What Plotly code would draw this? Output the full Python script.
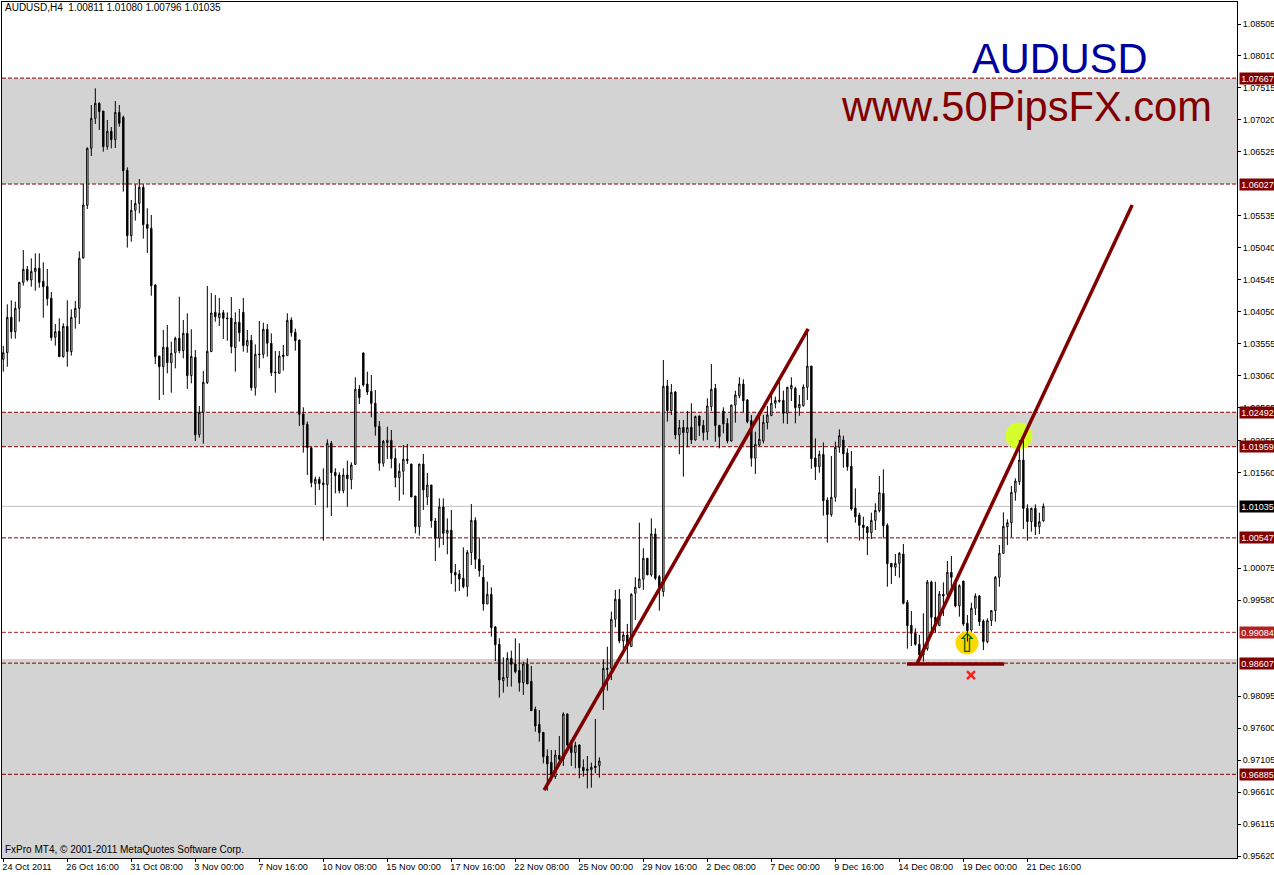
import plotly.graph_objects as go

opens = [
 1.03312,1.03415,1.03962,1.0374,1.04102,1.04504,1.04706,1.04541,1.0467,1.04721,
 1.0452,1.04442,1.04257,1.03653,1.03746,1.03353,1.03823,1.03431,1.03962,1.04102,
 1.04881,1.05697,1.0658,1.07044,1.07277,1.07158,1.06606,1.06843,1.06714,1.07137,
 1.0706,1.06239,1.05227,1.0562,1.05728,1.05976,1.05403,1.05341,1.04463,1.03364,
 1.03198,1.03498,1.0326,1.03415,1.03637,1.03446,1.03715,1.03059,1.03343,1.02145,
 1.02491,1.02951,1.03431,1.0404,1.03957,1.04035,1.03952,1.03952,1.03493,1.03885,
 1.0404,1.03524,1.03606,1.02873,1.03395,1.0339,1.03777,1.0356,1.03116,1.03095,
 1.03379,1.03369,1.03921,1.0373,1.03612,1.02466,1.02306,1.01944,1.01387,1.01454,
 1.01397,1.01371,1.02011,1.01562,1.01521,1.01278,1.01521,1.01449,1.01686,1.02848,
 1.0341,1.0293,1.02817,1.02631,1.02275,1.01702,1.02022,1.02058,1.01779,1.0148,
 1.01578,1.01764,1.01691,1.01195,1.0072,1.01691,1.0118,1.01366,1.00808,1.0054,
 1.01025,1.00617,1.00664,1.00013,0.99987,0.9992,0.99791,1.00318,1.00818,1.00214,
 0.99936,0.99523,0.99672,0.99167,0.98898,0.98335,0.98382,0.98681,0.98593,0.98495,
 0.98305,0.98593,0.98325,0.97892,0.97659,0.97535,0.97169,0.97071,0.96849,0.97179,
 0.97117,0.97819,0.97365,0.97221,0.97339,0.96993,0.96968,0.96957,0.97014,0.97019,
 0.98191,0.98526,0.98527,0.99286,0.99596,0.98951,0.99043,0.98863,0.99689,0.99777,
 0.99906,1.00231,0.99973,1.00608,0.99947,0.99715,1.029,1.02517,1.02807,1.02141,
 1.02259,1.02177,1.02259,1.02063,1.02435,1.0229,1.02187,1.0258,1.02863,1.0229,
 1.02512,1.02321,1.02048,1.02605,1.0275,1.0293,1.02683,1.02363,1.0178,1.01986,
 1.02048,1.02332,1.0244,1.02631,1.02677,1.02677,1.02475,1.02857,1.02862,1.02563,
 1.02594,1.02878,1.03208,1.01784,1.01649,1.0184,1.01133,1.00906,1.01175,1.01949,
 1.02062,1.0186,1.01655,1.01009,1.00901,1.00746,1.00715,1.00627,1.00818,1.00968,
 1.01236,1.00741,1.00152,1.00091,1.00152,1.00297,0.99548,0.99192,0.99068,0.98898,
 0.98733,0.98831,0.99863,0.99316,0.99187,0.99673,0.99673,1.00013,0.99884,0.99492,
 0.99879,0.99223,0.9912,0.99456,0.99647,0.99259,0.98939,0.99265,0.9942,0.99936,
 1.00307,1.0072,1.00782,1.01252,1.01417,1.01753,1.01004,1.00798,1.01004,1.0072,
 1.00811]
highs = [
 1.03518,1.04164,1.04226,1.04205,1.04504,1.05005,1.04757,1.04876,1.04954,1.04954,
 1.04814,1.04711,1.04355,1.03859,1.03947,1.0387,1.04226,1.04086,1.04215,1.04984,
 1.06027,1.06595,1.07251,1.07509,1.07292,1.07158,1.07019,1.0691,1.07313,1.07251,
 1.07086,1.06286,1.0578,1.06022,1.06105,1.06022,1.05651,1.05547,1.04473,1.03364,
 1.03766,1.03844,1.03586,1.03663,1.04282,1.03921,1.04024,1.03777,1.03457,1.02589,
 1.03131,1.04448,1.04339,1.04308,1.04262,1.04076,1.0404,1.04277,1.0404,1.04092,
 1.04262,1.03766,1.03689,1.03544,1.03906,1.0388,1.03859,1.03715,1.03441,1.03441,
 1.03534,1.04025,1.03963,1.03787,1.03612,1.02569,1.02347,1.01949,1.01495,1.01495,
 1.01624,1.02073,1.02047,1.01624,1.01562,1.01624,1.01743,1.01717,1.03033,1.02915,
 1.03421,1.03121,1.0307,1.02837,1.02357,1.02063,1.02269,1.02218,1.01934,1.01702,
 1.01986,1.02001,1.01691,1.01195,1.01691,1.01846,1.01552,1.01366,1.00855,1.01159,
 1.01159,1.00849,1.00978,1.00142,1.00049,1.004,1.00359,1.01071,1.00865,1.0054,
 1.00127,0.99869,0.99781,0.99182,0.98991,0.98697,0.98774,0.988,0.98991,0.98914,
 0.9863,0.98681,0.98563,0.97933,0.97881,0.9754,0.97272,0.97262,0.97262,0.97479,
 0.97845,0.97829,0.97417,0.97391,0.9735,0.97117,0.97169,0.97065,0.97742,0.97148,
 0.98666,0.98862,0.99405,0.9974,0.99756,0.99095,0.99214,0.99689,0.99936,1.00783,
 1.00386,1.00231,1.0085,1.00695,0.99973,1.03302,1.02992,1.0293,1.02822,1.02373,
 1.02373,1.02512,1.02631,1.0244,1.0244,1.02373,1.02708,1.0324,1.0293,1.02296,
 1.02569,1.02399,1.02605,1.02827,1.03034,1.03003,1.02698,1.0245,1.02192,1.0245,
 1.0245,1.0259,1.02796,1.02734,1.02967,1.02827,1.02888,1.03033,1.02888,1.02759,
 1.02924,1.0372,1.03208,1.02088,1.01897,1.02026,1.01175,1.01815,1.02037,1.02228,
 1.0213,1.01933,1.01892,1.01314,1.00937,1.00875,1.0073,1.00937,1.01082,1.01505,
 1.01608,1.00772,1.00152,1.00297,1.00328,1.00452,0.99585,0.99414,0.99146,0.99043,
 0.99378,0.99894,0.99884,0.99868,0.99724,0.99858,1.00189,1.00266,0.99894,0.99827,
 0.99879,0.99352,0.99543,0.99688,0.99662,0.99285,0.99301,0.9943,0.99956,1.00436,
 1.00942,1.00834,1.0135,1.01469,1.02062,1.02114,1.01066,1.01014,1.01066,1.00937,
 1.0108]
lows = [
 1.03121,1.03198,1.03632,1.03632,1.03895,1.04453,1.04515,1.04437,1.04375,1.04422,
 1.03957,1.04143,1.03601,1.03524,1.03353,1.03338,1.03198,1.03369,1.03787,1.03859,
 1.04876,1.0564,1.06461,1.06957,1.06864,1.06528,1.06559,1.0658,1.06585,1.06915,
 1.05909,1.05042,1.05134,1.0546,1.05573,1.05181,1.04959,1.04297,1.0324,1.02682,
 1.0276,1.03095,1.02796,1.03173,1.03405,1.03327,1.02853,1.0294,1.02047,1.02099,
 1.02006,1.0293,1.03431,1.03895,1.03828,1.03627,1.03601,1.03405,1.03121,1.03586,
 1.03431,1.03415,1.02827,1.0275,1.03173,1.03328,1.03353,1.03054,1.02796,1.03095,
 1.03137,1.03369,1.03663,1.03446,1.0228,1.01867,1.01521,1.0133,1.01056,1.01289,
 1.00504,1.01015,1.00886,1.01237,1.01237,1.01237,1.01031,1.01299,1.01676,1.0262,
 1.02889,1.0276,1.02414,1.0213,1.01588,1.0165,1.01769,1.01624,1.0133,1.01123,
 1.01216,1.01691,1.0118,1.00617,1.00581,1.00979,1.01056,1.00705,1.00189,1.00395,
 1.00436,1.00292,0.99832,0.99714,0.99724,0.99765,0.99636,1.00127,1.00065,0.99946,
 0.9942,0.99523,0.99017,0.9864,0.98072,0.9815,0.98243,0.98243,0.98449,0.98165,
 0.98114,0.98284,0.97871,0.97546,0.97391,0.97055,0.96632,0.96782,0.96813,0.97019,
 0.97014,0.97313,0.97014,0.96978,0.96823,0.96849,0.96668,0.96679,0.96901,0.96833,
 0.97881,0.9818,0.98346,0.99162,0.98914,0.98796,0.98605,0.98863,0.99276,0.99766,
 0.9974,0.99973,0.99947,0.99895,0.9942,0.99637,1.02347,1.0245,1.02074,1.01841,
 1.01495,1.0195,1.02001,1.02053,1.02125,1.02053,1.02063,1.02512,1.02037,1.01934,
 1.02166,1.02012,1.02037,1.02332,1.02708,1.02492,1.02321,1.0165,1.01537,1.0197,
 1.02012,1.02228,1.0244,1.02554,1.02641,1.02321,1.0231,1.02666,1.0232,1.02439,
 1.02579,1.02682,1.01618,1.01443,1.01556,1.00891,1.00472,1.00875,1.01107,1.01866,
 1.01634,1.01587,1.00968,1.00782,1.00503,1.00524,1.00281,1.00529,1.00669,1.00942,
 1.0054,0.99791,0.99832,0.99956,0.9993,0.99518,0.98831,0.98872,0.98878,0.9863,
 0.9863,0.988,0.99058,0.99079,0.99187,0.99337,0.99559,0.99739,0.99471,0.99327,
 0.99182,0.98939,0.99094,0.99352,0.99182,0.9881,0.98914,0.99182,0.99249,0.99791,
 1.00307,1.00436,1.00555,1.01123,1.01366,1.00684,1.00503,1.00643,1.00591,1.00607,
 1.00796]
closes = [
 1.03415,1.03962,1.0374,1.04102,1.04504,1.04706,1.04541,1.04675,1.04721,1.04504,
 1.04437,1.04251,1.03648,1.0374,1.03353,1.03823,1.03431,1.03962,1.04102,1.04876,
 1.05702,1.0658,1.07044,1.07277,1.07148,1.06606,1.06843,1.06714,1.07137,1.06967,
 1.06234,1.05227,1.0562,1.05728,1.05976,1.05398,1.05341,1.04453,1.03353,1.03198,
 1.03498,1.0326,1.03405,1.03637,1.03446,1.03715,1.03059,1.03358,1.02145,1.02491,
 1.02956,1.03436,1.0403,1.03973,1.04025,1.03947,1.03942,1.03508,1.03885,1.03725,
 1.03524,1.03606,1.02873,1.0339,1.03385,1.03777,1.0356,1.03106,1.03106,1.03364,
 1.03353,1.03916,1.03725,1.03601,1.0246,1.023,1.01944,1.01402,1.01454,1.01387,
 1.01371,1.02011,1.01557,1.01511,1.01278,1.01521,1.01464,1.01676,1.02848,1.02719,
 1.02915,1.02806,1.02631,1.02269,1.01702,1.02042,1.02058,1.01774,1.0148,1.01578,
 1.01764,1.01743,1.0118,1.0072,1.01691,1.01288,1.01366,1.00813,1.0054,1.01025,
 1.00617,1.00664,1.00008,0.99972,0.9991,0.99791,1.00323,1.00818,1.00214,1.00039,
 0.99523,0.99672,0.99156,0.98893,0.98346,0.98387,0.98681,0.98588,0.98475,0.98305,
 0.98593,0.98284,0.97871,0.97633,0.9753,0.97159,0.97045,0.96875,0.97184,0.97117,
 0.97819,0.97339,0.97221,0.97334,0.96988,0.96942,0.96942,0.96993,0.96988,0.97091,
 0.98526,0.98511,0.99286,0.99596,0.98951,0.99043,0.98889,0.99673,0.99782,0.99911,
 1.00231,0.99973,1.00608,0.99921,0.99766,1.02894,1.02517,1.02801,1.02141,1.02254,
 1.02177,1.02254,1.02063,1.02425,1.02285,1.02177,1.0259,1.02848,1.02285,1.02115,
 1.02311,1.02048,1.02605,1.0276,1.0293,1.02672,1.02347,1.0178,1.01996,1.02074,
 1.02337,1.0245,1.02631,1.02677,1.02662,1.02476,1.02878,1.02909,1.02563,1.02615,
 1.02883,1.03208,1.01773,1.01649,1.0184,1.01123,1.00906,1.01175,1.01949,1.0213,
 1.0185,1.01649,1.00994,1.00875,1.00741,1.00705,1.00627,1.00818,1.00973,1.01247,
 1.00736,1.00147,1.00096,1.00152,1.00307,0.99533,0.99187,0.99068,0.98898,0.98733,
 0.98821,0.99863,0.99316,0.99198,0.99678,0.99647,1.00013,0.99936,0.99492,0.99807,
 0.99213,0.9911,0.99456,0.99647,0.99249,0.98939,0.99265,0.9942,0.99936,1.00307,
 1.00725,1.00782,1.01252,1.01427,1.01753,1.01004,1.00798,1.01004,1.0072,1.00798,
 1.01035]

date_positions = [0,16,32,48,64,80,96,112,128,144,160,176,192,208,224,240,256]
date_labels = ["24 Oct 2011","26 Oct 16:00","31 Oct 08:00","3 Nov 00:00","7 Nov 16:00",
 "10 Nov 08:00","15 Nov 00:00","17 Nov 16:00","22 Nov 08:00","25 Nov 00:00","29 Nov 16:00",
 "2 Dec 08:00","7 Dec 00:00","9 Dec 16:00","14 Dec 08:00","19 Dec 00:00","21 Dec 16:00"]
price_ticks = [1.08505,1.0801,1.07515,1.0702,1.06525,1.05535,1.0504,1.04545,1.0405,
 1.03555,1.0306,1.02565,1.02055,1.0156,1.00075,0.9958,
 0.98095,0.976,0.97105,0.9661,0.96115,0.9562]
level_prices = [1.07667,1.06027,1.02492,1.01959,1.00547,0.99084,0.98607,0.96885]
level_colors = ["#800000","#800000","#800000","#800000","#800000","#B22222","#800000","#800000"]
current_price = 1.01035
zones = [(1.07667,1.06027),(1.02492,1.01959),(0.98671,0.95589)]
trend_a_x, trend_a_y = [135.2,201.2],[0.96642,1.03782]
trend_b_x, trend_b_y = [228.4,282.2],[0.98593,1.05702]
support_x, support_y = [225.9,250.2],[0.98593,0.98593]

XR = [-0.325,308.4]
YR = [0.95589,1.08846]
idx = list(range(len(opens)))
FONT = "Liberation Sans"

fig = go.Figure()
fig.add_trace(go.Candlestick(x=idx,open=opens,high=highs,low=lows,close=closes,
    increasing=dict(line=dict(color="black",width=1),fillcolor="white"),
    decreasing=dict(line=dict(color="black",width=1),fillcolor="black"),
    whiskerwidth=0,hoverinfo="skip",showlegend=False))
for xs,ys in [(trend_a_x,trend_a_y),(trend_b_x,trend_b_y),(support_x,support_y)]:
    fig.add_trace(go.Scatter(x=xs,y=ys,mode="lines",line=dict(color="#800000",width=3.5),
                             hoverinfo="skip",showlegend=False))
fig.add_trace(go.Scatter(x=[241.9],y=[0.98423],mode="markers",hoverinfo="skip",showlegend=False,
    marker=dict(symbol="x-thin",size=8,line=dict(color="#FF2020",width=2.5))))

shapes = []
for top,bottom in zones:
    shapes.append(dict(type="rect",layer="below",xref="x",yref="y",x0=XR[0],x1=XR[1],y0=bottom,y1=top,
                       fillcolor="#D3D3D3",line=dict(width=0)))
for p,c in zip(level_prices,level_colors):
    shapes.append(dict(type="line",layer="below",xref="x",yref="y",x0=XR[0],x1=XR[1],y0=p,y1=p,
                       line=dict(color=c,width=1,dash="4px,2px")))
shapes.append(dict(type="line",layer="below",xref="x",yref="y",x0=XR[0],x1=XR[1],y0=current_price,y1=current_price,
                   line=dict(color="#C0C0C0",width=1)))
for cx,cy,r,col in [(253.9,1.02125,13.5,"#D4FF2A"),(240.9,0.98919,11.5,"#FFD700")]:
    shapes.append(dict(type="circle",layer="below",xref="x",yref="y",xsizemode="pixel",ysizemode="pixel",
                       xanchor=cx,yanchor=cy,x0=-r,x1=r,y0=-r,y1=r,fillcolor=col,line=dict(width=0)))

ann = []
for p,c in zip(level_prices+[current_price],level_colors+["#000000"]):
    ann.append(dict(xref="paper",yref="y",x=1,y=p,xanchor="left",yanchor="middle",xshift=2,
                    text=f"{p:.5f}",showarrow=False,bgcolor=c,borderpad=0,width=35,height=11,align="center",
                    font=dict(family=FONT,size=9,color="white")))
def px(x,y,text,size,color,anchor="left"):
    return dict(xref="paper",yref="paper",x=(x-2)/1235,y=(858-y)/856,xanchor=anchor,yanchor="middle",
                text=text,showarrow=False,font=dict(family=FONT,size=size,color=color))
ann.append(px(3,8,"AUDUSD,H4  1.00811 1.01080 1.00796 1.01035",10,"black"))
ann.append(px(3,849,"FxPro MT4, © 2001-2011 MetaQuotes Software Corp.",10,"black"))
ann.append(px(1059.5,58,"AUDUSD",41.6,"#00009C","center"))
ann.append(px(1026,106,"www.50PipsFX.com",41.6,"#800000","center"))
ann.append(dict(xref="x",yref="y",x=240.9,y=0.98919,text="⇧",showarrow=False,xanchor="center",yanchor="middle",
                font=dict(family="DejaVu Sans",size=26,color="#006400")))

fig.update_layout(width=1274,height=875,margin=dict(l=2,r=37,t=2,b=17,autoexpand=False),
    paper_bgcolor="white",plot_bgcolor="white",boxgap=0.5,shapes=shapes,annotations=ann,showlegend=False,
    font=dict(family=FONT,size=10,color="black"),
    xaxis=dict(range=XR,rangeslider=dict(visible=False),tickmode="array",tickvals=date_positions,ticktext=date_labels,
               ticks="outside",ticklen=3,tickcolor="black",tickfont=dict(family=FONT,size=9.2,color="black"),
               tickangle=0,automargin=False,ticklabelposition="outside right",ticklabelshift=-2,showgrid=False,zeroline=False,showline=True,mirror=True,
               linecolor="black",linewidth=1),
    yaxis=dict(range=YR,side="right",tickmode="array",tickvals=price_ticks,ticktext=[f"{t:.5f}" for t in price_ticks],
               automargin=False,ticks="outside",ticklen=3,tickcolor="black",tickfont=dict(family=FONT,size=9,color="black"),
               showgrid=False,zeroline=False,showline=True,mirror=True,linecolor="black",linewidth=1))
fig.write_html("out.html",config=dict(displayModeBar=False),post_script="document.body.style.margin='0';")
